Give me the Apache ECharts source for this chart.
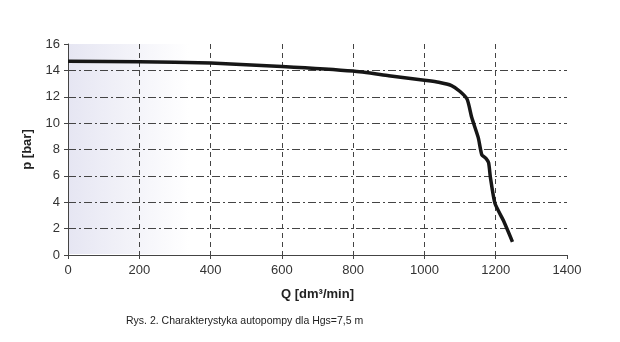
<!DOCTYPE html>
<html><head><meta charset="utf-8">
<script src="https://cdn.jsdelivr.net/npm/echarts@6/dist/echarts.min.js"></script>
<style>html,body{margin:0;padding:0;background:#fff}#c{width:620px;height:342px}</style>
</head><body><div id="c"></div>
<script>
var flowQ = [0, 200, 400, 600, 800, 900, 1000, 1040, 1076, 1100, 1120, 1133, 1151, 1161, 1172, 1180, 1185, 1198, 1221, 1247];
var pressure = [14.7, 14.65, 14.55, 14.3, 13.95, 13.6, 13.25, 13.1, 12.85, 12.4, 11.8, 10.4, 8.9, 7.6, 7.35, 7.0, 5.9, 3.9, 2.65, 1.0];
var xTicks = [0, 200, 400, 600, 800, 1000, 1200, 1400];
var yTicks = [0, 2, 4, 6, 8, 10, 12, 14, 16];
var xName = 'Q [dm³/min]';
var yName = 'p [bar]';
var caption = 'Rys. 2. Charakterystyka autopompy dla Hgs=7,5 m';

var chart = echarts.init(document.getElementById('c'));
var pts = flowQ.map(function(q, i){ return [q, pressure[i]]; });
chart.setOption({
  animation: false,
  backgroundColor: '#fff',
  grid: {left: 68, right: 53, top: 44, bottom: 87},
  graphic: [
    {type: 'rect', left: 69, top: 44, z: 0, silent: true,
     shape: {width: 120, height: 210},
     style: {fill: {type: 'linear', x: 0, y: 0, x2: 1, y2: 0,
       colorStops: [{offset: 0, color: 'rgba(205,205,230,0.5)'}, {offset: 1, color: 'rgba(205,205,230,0)'}]}}},
    {type: 'text', left: 126, top: 316, z: 10,
     style: {text: caption, font: '10.5px "Liberation Sans", Arial, sans-serif', fill: '#222'}}
  ],
  xAxis: {
    type: 'value', min: 0, max: 1400, interval: 200,
    name: xName, nameLocation: 'middle', nameGap: 33,
    nameTextStyle: {fontFamily: 'Liberation Sans', fontWeight: 'bold', fontSize: 13, color: '#222'},
    axisLine: {show: true, lineStyle: {color: '#444', width: 1}},
    axisTick: {show: true, length: 4, lineStyle: {color: '#444'}},
    axisLabel: {fontFamily: 'Liberation Sans', fontSize: 13, color: '#333', margin: 9,
      formatter: function(v){ return String(v); }},
    splitLine: {show: true, showMinLine: false, showMaxLine: false, lineStyle: {color: '#444', type: [5, 4], width: 1}}
  },
  yAxis: {
    type: 'value', min: 0, max: 16, interval: 2,
    name: yName, nameLocation: 'middle', nameGap: 34, nameRotate: 90,
    nameTextStyle: {fontFamily: 'Liberation Sans', fontWeight: 'bold', fontSize: 13, color: '#222'},
    axisLine: {show: true, lineStyle: {color: '#444', width: 1}},
    axisTick: {show: true, length: 4, lineStyle: {color: '#444'}},
    axisLabel: {fontFamily: 'Liberation Sans', fontSize: 13, color: '#333', margin: 8,
      formatter: function(v){ return String(v); }},
    splitLine: {show: true, showMinLine: false, showMaxLine: false, lineStyle: {color: '#444', type: [8, 3, 2, 3], width: 1}}
  },
  series: [{
    type: 'line', data: pts, showSymbol: false, smooth: 0.2,
    lineStyle: {color: '#161616', width: 3.5}, z: 5
  }]
});
</script></body></html>
